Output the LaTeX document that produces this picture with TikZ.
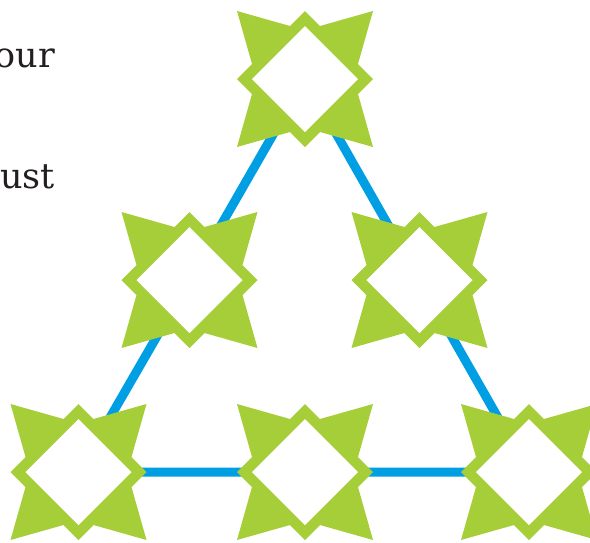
\documentclass[tikz,border=0pt]{standalone}
\usepackage{fontspec}
\setmainfont{DejaVu Serif}
\definecolor{stargreen}{HTML}{A6CE39}
\definecolor{linkblue}{HTML}{009FE3}
\definecolor{textgray}{HTML}{231F20}
\tikzset{
  x=1pt, y=-1pt,
  link/.style={draw=linkblue, line width=9pt},
  pagetext/.style={font=\fontsize{35}{40}\selectfont, text=textgray, inner sep=0pt, anchor=base east},
  star/.pic={
    \fill[stargreen] (0,-68) -- (15,-53) -- (68,-68) -- (53,-15) -- (68,0) -- (53,15) -- (68,68) -- (15,53) -- (0,68) -- (-15,53) -- (-68,68) -- (-53,15) -- (-68,0) -- (-53,-15) -- (-68,-68) -- (-15,-53) -- cycle;
    \fill[white] (0,-53) -- (53,0) -- (0,53) -- (-53,0) -- cycle;
  }
}
\begin{document}
\begin{tikzpicture}
\useasboundingbox (0,0) rectangle (590,542);
\coordinate (top) at (305,79);
\coordinate (ml) at (189.5,280);
\coordinate (mr) at (419.5,280);
\coordinate (bl) at (78.5,472);
\coordinate (bm) at (305,472);
\coordinate (br) at (529,472);
\draw[link] (top) -- (ml) -- (bl) -- (bm) -- (br) -- (mr) -- (top);
\foreach \c in {top,ml,mr,bl,bm,br} { \pic at (\c) {star}; }
\node[pagetext] (t1) at (55,67.3) {our};
\node[pagetext] (t2) at (55,188.3) {ust};
\end{tikzpicture}
\end{document}
